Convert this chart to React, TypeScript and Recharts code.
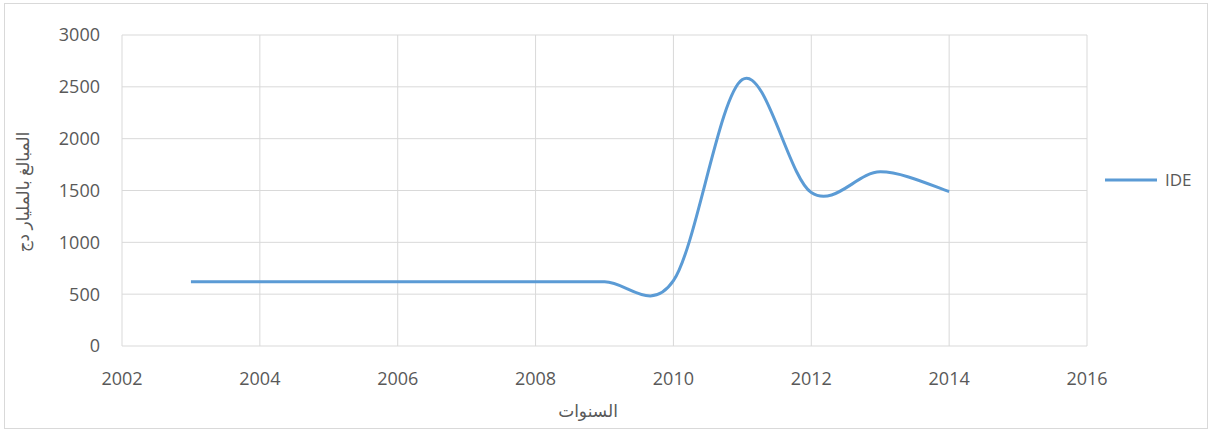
import { LineChart, Line, XAxis, YAxis, CartesianGrid, Legend } from "recharts";

// IDE amounts by year (billion DZD)
const years = [2003, 2004, 2005, 2006, 2007, 2008, 2009, 2010, 2011, 2012, 2013, 2014];
const ideValues = [620, 620, 620, 620, 620, 620, 620, 630, 2570, 1480, 1680, 1490];
const xTicks = [2002, 2004, 2006, 2008, 2010, 2012, 2014, 2016];
const yTicks = [0, 500, 1000, 1500, 2000, 2500, 3000];

const data = years.map((year, i) => ({ year, IDE: ideValues[i] }));

const FONT = "'Open Sans', 'DejaVu Sans', sans-serif";
const TEXT = "#595959";

// Excel-style smoothed line (Catmull-Rom through the points)
function excelSmooth(context: any) {
  let pts: number[][] = [];
  return {
    areaStart() {},
    areaEnd() {},
    lineStart() {
      pts = [];
    },
    point(x: number, y: number) {
      pts.push([+x, +y]);
    },
    lineEnd() {
      const n = pts.length;
      if (!n) return;
      context.moveTo(pts[0][0], pts[0][1]);
      for (let i = 0; i < n - 1; i++) {
        const p0 = pts[i - 1] || pts[i];
        const p1 = pts[i];
        const p2 = pts[i + 1];
        const p3 = pts[i + 2] || p2;
        context.bezierCurveTo(
          p1[0] + (p2[0] - p0[0]) / 6,
          p1[1] + (p2[1] - p0[1]) / 6,
          p2[0] - (p3[0] - p1[0]) / 6,
          p2[1] - (p3[1] - p1[1]) / 6,
          p2[0],
          p2[1]
        );
      }
    },
  };
}

const renderLegend = () => (
  <div style={{ display: "flex", alignItems: "center", fontFamily: FONT, fontSize: 17, color: TEXT }}>
    <svg width={56} height={10} style={{ marginRight: 6 }}>
      <line x1={2} y1={5} x2={54} y2={5} stroke="#5B9BD5" strokeWidth={3} />
    </svg>
    <span>IDE</span>
  </div>
);

export default function App() {
  return (
    <div
      style={{
        position: "absolute",
        left: 4,
        top: 3,
        width: 1202,
        height: 424,
        border: "1px solid #d9d9d9",
        background: "#fff",
      }}
    >
      <LineChart width={1202} height={424} data={data} margin={{ top: 31, right: 120, left: 0, bottom: 0 }}>
        <CartesianGrid stroke="#d9d9d9" strokeWidth={1} />
        <XAxis
          dataKey="year"
          type="number"
          domain={[2002, 2016]}
          ticks={xTicks}
          height={82}
          axisLine={false}
          tickLine={false}
          tickSize={0}
          tickMargin={26}
          tick={{ fill: TEXT, fontSize: 18, fontFamily: FONT }}
          label={{
            content: () => (
              <text x={583} y={413} textAnchor="middle" fill={TEXT} fontSize={17} fontFamily={FONT}>
                السنوات
              </text>
            ),
          }}
        />
        <YAxis
          type="number"
          domain={[0, 3000]}
          ticks={yTicks}
          width={117}
          axisLine={false}
          tickLine={false}
          tickSize={0}
          tickMargin={22}
          tick={{ fill: TEXT, fontSize: 18, fontFamily: FONT }}
          label={{
            content: () => (
              <text
                x={17}
                y={188}
                textAnchor="middle"
                dominantBaseline="central"
                transform="rotate(-90 17 188)"
                fill={TEXT}
                fontSize={17}
                fontFamily={FONT}
              >
                المبالغ بالمليار دج
              </text>
            ),
          }}
        />
        <Legend
          layout="horizontal"
          align="center"
          verticalAlign="middle"
          content={renderLegend}
          wrapperStyle={{ left: 1098, top: 164, width: 100, height: 24 }}
        />
        <Line
          type={excelSmooth as any}
          dataKey="IDE"
          stroke="#5B9BD5"
          strokeWidth={3}
          dot={false}
          activeDot={false}
          isAnimationActive={false}
        />
      </LineChart>
    </div>
  );
}
